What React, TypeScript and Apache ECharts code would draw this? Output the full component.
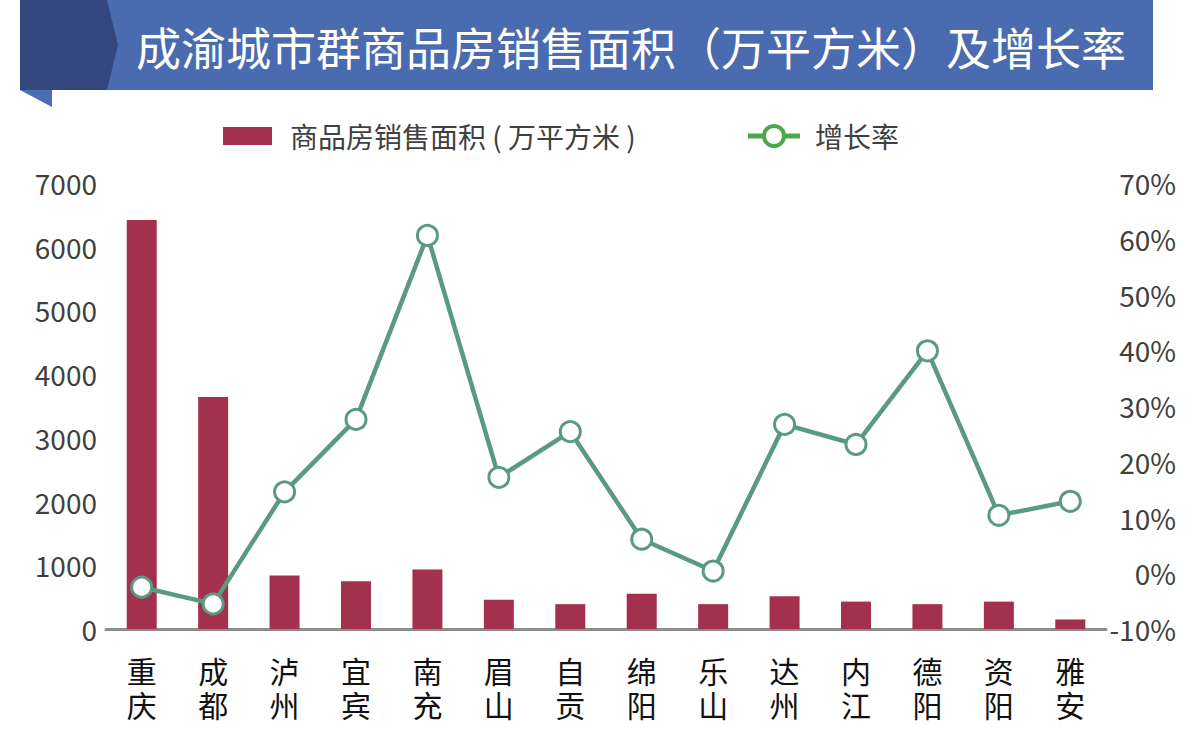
import React, { useEffect, useRef } from "react";
import * as echarts from "echarts";

const titleText = "成渝城市群商品房销售面积（万平方米）及增长率";
const categories = ["重庆", "成都", "泸州", "宜宾", "南充", "眉山", "自贡", "绵阳", "乐山", "达州", "内江", "德阳", "资阳", "雅安"];
const areaValues = [6420, 3640, 840, 750, 935, 460, 390, 555, 390, 515, 430, 390, 430, 150];
const growthValues = [-2.5, -5.5, 14.6, 27.6, 60.6, 17.2, 25.4, 6.1, 0.4, 26.7, 23.1, 39.9, 10.4, 12.9];
const areaName = "商品房销售面积 ( 万平方米 )";
const growthName = "增长率";

const FONT = "'Noto Sans CJK SC', 'Noto Sans', sans-serif";
const BAR_COLOR = "#a3304c";
const LINE_COLOR = "#5a9a80";
const LEGEND_GREEN = "#4aa84a";

export default function App() {
  const ref = useRef<HTMLDivElement>(null);
  useEffect(() => {
    if (!ref.current) return;
    const chart = echarts.init(ref.current, undefined, { renderer: "svg" });
    chart.setOption({
      animation: false,
      backgroundColor: "#ffffff",
      textStyle: { fontFamily: FONT },
      graphic: [
        { type: "rect", shape: { x: 107, y: 0, width: 1046, height: 90 }, style: { fill: "#4a6bb0" } },
        { type: "polygon", shape: { points: [[20, 0], [107, 0], [118, 45], [107, 90], [20, 90]] }, style: { fill: "#34487f" } },
        { type: "polygon", shape: { points: [[20, 90], [52, 90], [52, 107]] }, style: { fill: "#4a6db5" } },
        {
          type: "text",
          x: 631,
          y: 46,
          style: {
            text: titleText,
            fill: "#ffffff",
            fontSize: 45,
            fontFamily: FONT,
            align: "center",
            verticalAlign: "middle",
          },
        },
        // legend
        { type: "rect", shape: { x: 223, y: 127, width: 49, height: 18 }, style: { fill: BAR_COLOR } },
        {
          type: "text",
          x: 290,
          y: 136,
          style: { text: areaName, fill: "#404040", fontSize: 28, fontFamily: FONT, verticalAlign: "middle" },
        },
        { type: "line", shape: { x1: 748, y1: 136, x2: 800, y2: 136 }, style: { stroke: LEGEND_GREEN, lineWidth: 5 } },
        { type: "circle", shape: { cx: 774, cy: 136, r: 10 }, style: { fill: "#ffffff", stroke: LEGEND_GREEN, lineWidth: 4 } },
        {
          type: "text",
          x: 815,
          y: 136,
          style: { text: growthName, fill: "#404040", fontSize: 28, fontFamily: FONT, verticalAlign: "middle" },
        },
      ],
      grid: { left: 106, right: 88, top: 183, bottom: 123 },
      xAxis: {
        type: "category",
        data: categories,
        axisLine: { lineStyle: { color: "#8c8c8c", width: 3 } },
        axisTick: { inside: true, length: 10, lineStyle: { color: "#8c8c8c", width: 2 } },
        axisLabel: {
          fontSize: 30,
          lineHeight: 34,
          color: "#111111",
          margin: 24,
          fontFamily: FONT,
          formatter: (v: string) => v.split("").join("\n"),
        },
      },
      yAxis: [
        {
          type: "value",
          min: 0,
          max: 7000,
          interval: 1000,
          axisLine: { show: false },
          axisTick: { show: false },
          splitLine: { show: false },
          axisLabel: {
            fontSize: 28,
            color: "#404040",
            margin: 9,
            fontFamily: FONT,
            formatter: (v: number) => String(v),
          },
        },
        {
          type: "value",
          min: -10,
          max: 70,
          interval: 10,
          position: "right",
          axisLine: { show: false },
          axisTick: { show: false },
          splitLine: { show: false },
          axisLabel: {
            fontSize: 28,
            color: "#404040",
            margin: 70,
            align: "right",
            fontFamily: FONT,
            formatter: "{value}%",
          },
        },
      ],
      series: [
        {
          name: areaName,
          type: "bar",
          data: areaValues,
          barWidth: 30,
          itemStyle: { color: BAR_COLOR },
          z: 2,
        },
        {
          name: growthName,
          type: "line",
          yAxisIndex: 1,
          data: growthValues,
          symbol: "circle",
          symbolSize: 20,
          showAllSymbol: true,
          lineStyle: { color: LINE_COLOR, width: 4.5 },
          itemStyle: { color: "#ffffff", borderColor: LINE_COLOR, borderWidth: 3 },
          z: 3,
        },
      ],
    });
    return () => chart.dispose();
  }, []);
  return (
    <div
      ref={ref}
      style={{ position: "absolute", left: 0, top: 0, width: 1194, height: 752 }}
    />
  );
}
